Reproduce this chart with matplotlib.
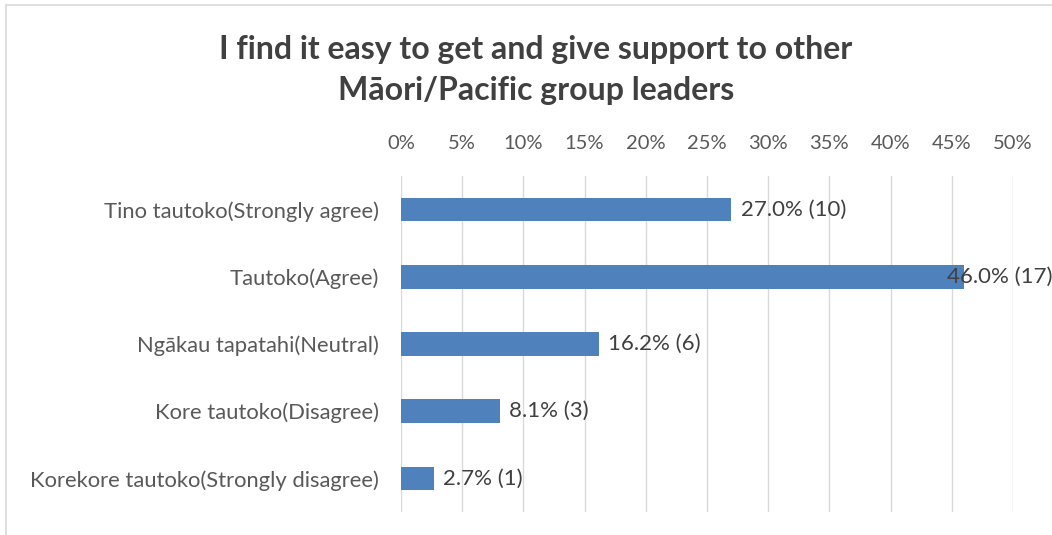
import matplotlib
matplotlib.use("Agg")
import matplotlib.pyplot as plt
from matplotlib.lines import Line2D

categories = [
    "Tino tautoko(Strongly agree)",
    "Tautoko(Agree)",
    "Ngākau tapatahi(Neutral)",
    "Kore tautoko(Disagree)",
    "Korekore tautoko(Strongly disagree)",
]
percents = [27.0, 46.0, 16.2, 8.1, 2.7]
counts = [10, 17, 6, 3, 1]
ticks = [0, 5, 10, 15, 20, 25, 30, 35, 40, 45, 50]

title = "I find it easy to get and give support to other\nMāori/Pacific group leaders"

plt.rcParams["font.family"] = ["Lato", "DejaVu Sans"]

W, H = 1052, 535
fig = plt.figure(figsize=(W / 100, H / 100), dpi=100)

# chart frame (left and top edges only show)
fig.add_artist(Line2D([6 / W, 6 / W], [0, 1 - 5 / H], color="#d9d9d9", lw=1.2))
fig.add_artist(Line2D([6 / W, 1], [1 - 5 / H, 1 - 5 / H], color="#d9d9d9", lw=1.2))

ax = fig.add_axes([401 / W, 1 - 512 / H, (1013 - 401) / W, (512 - 176) / H])

y = list(range(len(categories)))
ax.barh(y, percents, height=0.35, color="#4f81bd", zorder=3)
ax.set_ylim(len(categories) - 0.5, -0.5)
ax.set_xlim(0, 50)

ax.set_yticks(y)
ax.set_yticklabels(categories)
ax.set_xticks(ticks)
ax.set_xticklabels([f"{t}%" for t in ticks])
ax.xaxis.tick_top()
ax.tick_params(axis="both", length=0, colors="#595959")
ax.tick_params(axis="x", pad=17, labelsize=14.5)
ax.tick_params(axis="y", pad=16, labelsize=15.8)

ax.grid(axis="x", color="#d9d9d9", lw=1, zorder=0)
for s in ax.spines.values():
    s.set_visible(False)

# labels sit past the bar end, pulled back inside the chart for the longest one
for i, (p, c) in enumerate(zip(percents, counts)):
    ax.text(min(p + 0.75, 44.6), i, f"{p:.1f}% ({c})", va="center", ha="left",
            fontsize=16, color="#404040", zorder=4, clip_on=False)

fig.text(536 / W, 1 - 70 / H, title, ha="center", va="center", fontsize=23,
         fontweight="bold", color="#404040", linespacing=1.5)

fig.savefig("out.png", dpi=100)
